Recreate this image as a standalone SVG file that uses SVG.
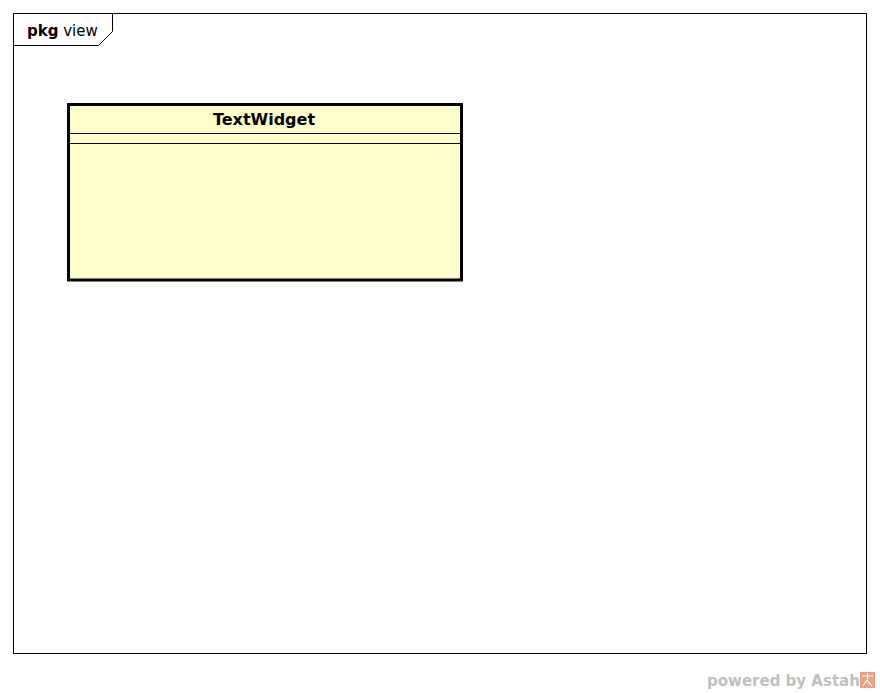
<svg xmlns="http://www.w3.org/2000/svg" width="880" height="693" viewBox="0 0 880 693">
<style>
.frame{fill:none;stroke:#000;stroke-width:1}
.cls{fill:#ffffcc;stroke:#000;stroke-width:3}
.sep{stroke:#000;stroke-width:1}
.t{font-family:"DejaVu Sans",sans-serif;fill:#000}
</style>
<rect width="880" height="693" fill="#fff"/>
<g id="frame">
<rect class="frame" x="13.5" y="13.5" width="853" height="640"/>
<path class="frame" d="M13.5,45.5 H98.5 L112.5,31.5 V13.5"/>
<text class="t" x="27" y="36" font-size="15"><tspan font-weight="bold">pkg</tspan> view</text>
</g>
<g id="TextWidget">
<rect class="cls" x="68.5" y="104.5" width="393" height="175.5"/>
<line class="sep" x1="70" y1="133.5" x2="460" y2="133.5"/>
<line class="sep" x1="70" y1="143.5" x2="460" y2="143.5"/>
<text class="t" x="264" y="125" font-size="16" font-weight="bold" text-anchor="middle">TextWidget</text>
</g>
<g id="connectors"></g>
<g id="watermark">
<text x="707" y="686" font-family="DejaVu Sans,sans-serif" font-size="15" font-weight="bold" fill="#c0c0c0">powered by Astah</text>
<rect x="860" y="672" width="15" height="16" fill="#f0a080"/>
<path d="M862,676 H873 M867.5,673 V679 M863,686 L867,680 L872,686" stroke="#fff" stroke-width="1.2" fill="none"/>
</g>
</svg>
